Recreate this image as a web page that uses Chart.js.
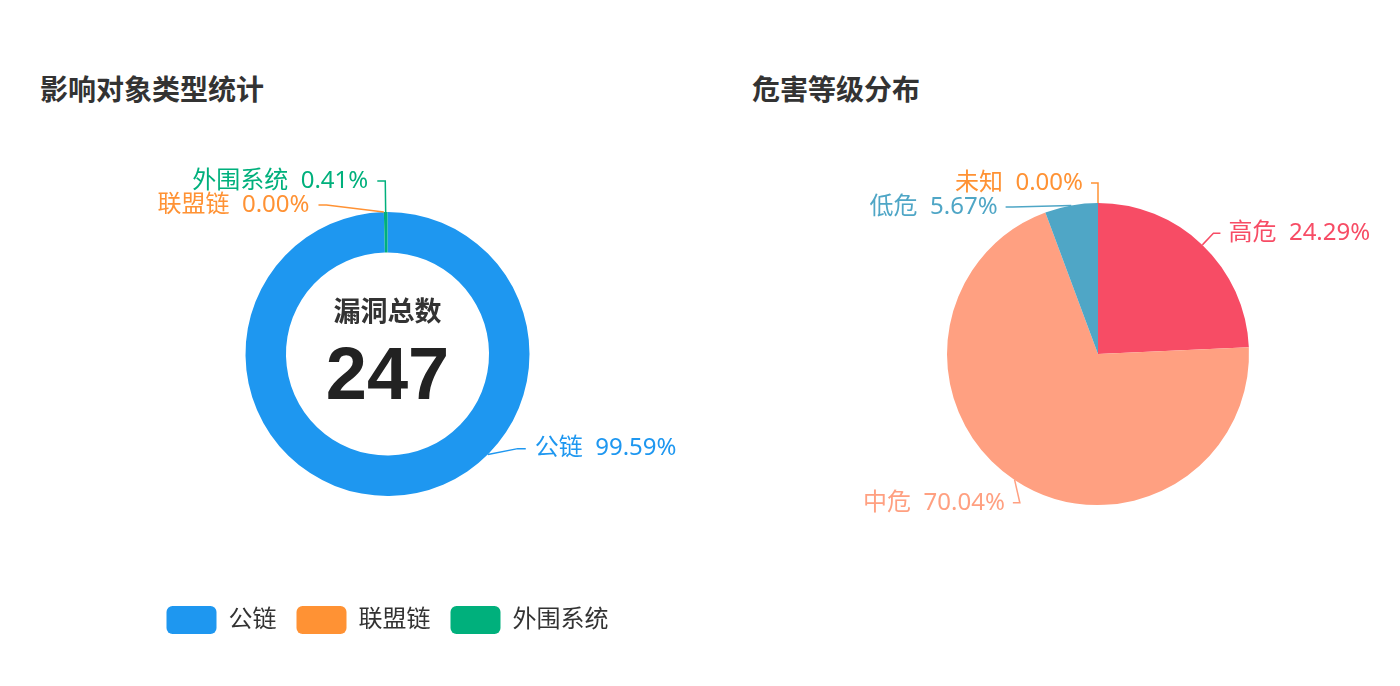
<!DOCTYPE html>
<html>
<head>
<meta charset="utf-8">
<script src="https://cdn.jsdelivr.net/npm/chart.js@4/dist/chart.umd.min.js"></script>
<style>
  html, body { margin: 0; padding: 0; background: #fff; }
  body { width: 1400px; height: 686px; position: relative; overflow: hidden; }
  .title {
    position: absolute; top: 68px; line-height: 40px;
    font: bold 28px "Noto Sans CJK SC", sans-serif; color: #333;
  }
  #left { position: absolute; left: 0; top: 0; width: 772px; height: 686px; }
  #right { position: absolute; left: 796px; top: 0; width: 604px; height: 686px; }
</style>
</head>
<body>
<div class="title" style="left:40px">影响对象类型统计</div>
<div class="title" style="left:752px">危害等级分布</div>
<canvas id="left" width="772" height="686"></canvas>
<canvas id="right" width="604" height="686"></canvas>
<script>
// 影响对象类型
const targetLabels = ["公链", "联盟链", "外围系统"]
const targetValues = [243, 0, 1]
const targetColors = ["#1e97f0", "#ff9234", "#00b07c"]
const vulnTotal = 247

// 危害等级
const levelLabels = ["高危", "中危", "低危", "未知"]
const levelValues = [60, 173, 14, 0]
const levelColors = ["#f74c65", "#ffa081", "#4fa6c6", "#ff9234"]

const FONT = '"Noto Sans", "Noto Sans CJK SC", sans-serif'

// ラベル位置の個別調整（canvas id -> index）
const labelTweaks = {
  left: { 0: { anchorFrac: 0.375, elbowFrac: 0.35, len1: 19 } },
  right: { 0: { len1: 16 }, 1: { elbowFrac: 0.577, len1: 17 } }
}

// ECharts 風のラベル + 引き出し線
const leaderLabels = {
  id: "leaderLabels",
  afterDatasetsDraw(chart, args, opts) {
    const meta = chart.getDatasetMeta(0)
    const ds = chart.data.datasets[0]
    const total = ds.data.reduce((a, b) => a + b, 0)
    const ctx = chart.ctx
    const over = labelTweaks[chart.canvas.id] || {}
    const toAng = f => -Math.PI / 2 + f * Math.PI * 2
    const items = meta.data.map((arc, i) => {
      const ov = over[i] || {}
      const a = ov.anchorFrac != null ? toAng(ov.anchorFrac) : (arc.startAngle + arc.endAngle) / 2
      const ea = ov.elbowFrac != null ? toAng(ov.elbowFrac) : a
      const R = arc.outerRadius + (ov.len1 != null ? ov.len1 : opts.len1)
      return {
        arc,
        ax: arc.x + Math.cos(a) * arc.outerRadius,
        ay: arc.y + Math.sin(a) * arc.outerRadius,
        ex: arc.x + Math.cos(ea) * R,
        ey: arc.y + Math.sin(ea) * R,
        left: Math.cos(ea) < 0,
        shifted: false,
        color: ds.backgroundColor[i],
        text: chart.data.labels[i] + "  " + (total ? ds.data[i] / total * 100 : 0).toFixed(2) + "%"
      }
    })

    // 重なり回避（下方向へずらす）
    ;[true, false].forEach(side => {
      const list = items.filter(it => it.left === side).sort((p, q) => p.ey - q.ey)
      for (let k = 1; k < list.length; k++) {
        if (list[k].ey - list[k - 1].ey < opts.gap) {
          list[k].ey = list[k - 1].ey + opts.gap
          list[k].shifted = true
        }
      }
    })
    items.forEach(it => {
      if (!it.shifted) return
      const dy = it.ey - it.arc.y
      const Rx = it.arc.outerRadius + opts.xExtra
      if (Math.abs(dy) < Rx) {
        const dx = Math.sqrt(Rx * Rx - dy * dy)
        it.ex = it.arc.x + (it.left ? -dx : dx)
      }
    })

    ctx.save()
    ctx.font = "24px " + FONT
    ctx.textBaseline = "middle"
    ctx.lineWidth = 1.5
    items.forEach(it => {
      const dir = it.left ? -1 : 1
      const endX = it.ex + dir * opts.len2
      ctx.strokeStyle = it.color
      ctx.beginPath()
      ctx.moveTo(it.ax, it.ay)
      ctx.lineTo(it.ex, it.ey)
      ctx.lineTo(endX, it.ey)
      ctx.stroke()
      ctx.fillStyle = it.color
      ctx.textAlign = it.left ? "right" : "left"
      ctx.fillText(it.text, endX + dir * opts.textGap, it.ey)
    })
    ctx.restore()
  }
}

// 中央の合計表示
const centerText = {
  id: "centerText",
  afterDraw(chart, args, opts) {
    if (!opts.value) return
    const { left, right, top, bottom } = chart.chartArea
    const cx = (left + right) / 2
    const cy = (top + bottom) / 2
    const ctx = chart.ctx
    ctx.save()
    ctx.textAlign = "center"
    ctx.textBaseline = "middle"
    ctx.fillStyle = "#333"
    ctx.font = 'bold 27px "Noto Sans CJK SC", sans-serif'
    ctx.fillText(opts.title, cx, cy - 43)
    ctx.fillStyle = "#222"
    ctx.font = 'bold 74px "Liberation Sans", Arial, sans-serif'
    ctx.fillText(opts.value, cx, cy + 25)
    ctx.restore()
  }
}

new Chart(document.getElementById("left"), {
  type: "doughnut",
  data: {
    labels: targetLabels,
    datasets: [{
      data: targetValues,
      backgroundColor: targetColors,
      borderWidth: 0
    }]
  },
  options: {
    responsive: false,
    animation: false,
    radius: 142,
    cutout: "71.5%",
    layout: { padding: { top: 122, bottom: 42, left: 3, right: 0 } },
    plugins: {
      tooltip: { enabled: false },
      legend: {
        position: "bottom",
        labels: {
          boxWidth: 50,
          boxHeight: 28,
          useBorderRadius: true,
          borderRadius: 6,
          padding: 20,
          color: "#333",
          font: { size: 24, family: FONT }
        }
      },
      leaderLabels: { len1: 31, len2: 8, textGap: 9, gap: 24, xExtra: 19 },
      centerText: { title: "漏洞总数", value: String(vulnTotal) }
    }
  },
  plugins: [leaderLabels, centerText]
})

new Chart(document.getElementById("right"), {
  type: "pie",
  data: {
    labels: levelLabels,
    datasets: [{
      data: levelValues,
      backgroundColor: levelColors,
      borderWidth: 0
    }]
  },
  options: {
    responsive: false,
    animation: false,
    radius: 151,
    layout: { padding: { top: 122, bottom: 100, left: 0, right: 0 } },
    plugins: {
      tooltip: { enabled: false },
      legend: { display: false },
      leaderLabels: { len1: 20, len2: 7, textGap: 8, gap: 24, xExtra: 19 },
      centerText: {}
    }
  },
  plugins: [leaderLabels, centerText]
})
</script>
</body>
</html>
